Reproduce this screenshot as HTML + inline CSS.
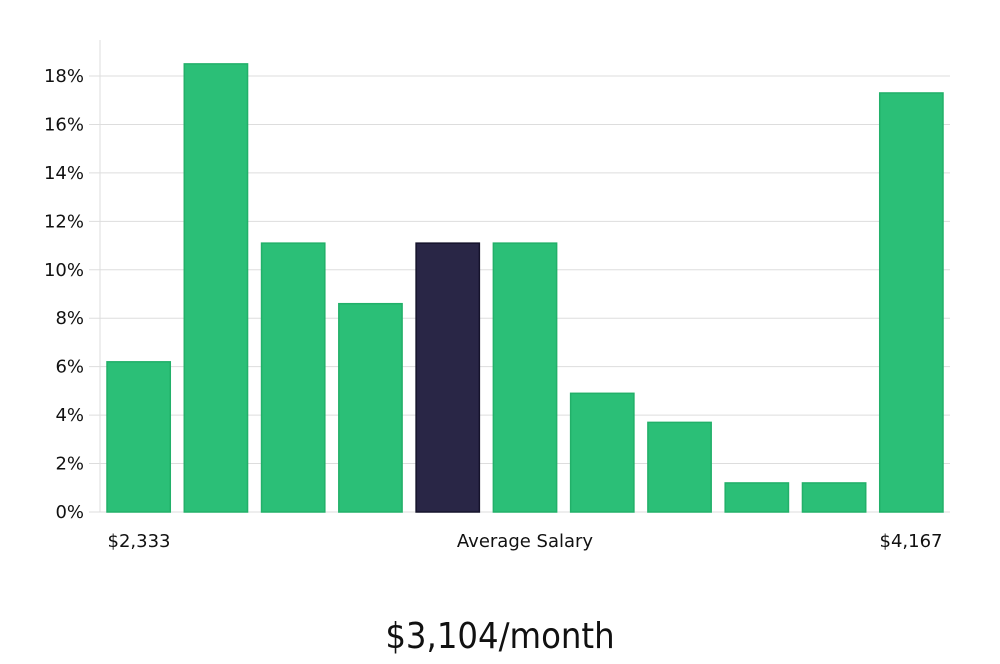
<!DOCTYPE html>
<html><head><meta charset="utf-8"><style>
body{margin:0;background:#fff;width:1000px;height:660px;overflow:hidden;font-family:"DejaVu Sans","Liberation Sans",sans-serif}
</style></head><body>
<svg width="1000" height="660" xmlns="http://www.w3.org/2000/svg">
<g id="grid"></g>
<g id="bars"></g>
<g id="labels">
<text x="139" y="547" font-size="18" text-anchor="middle" fill="#111">$2,333</text>
<text x="525" y="547" font-size="18" text-anchor="middle" fill="#111">Average Salary</text>
<text x="911" y="547" font-size="18" text-anchor="middle" fill="#111">$4,167</text>
</g>
<text x="500" y="648" font-size="36" text-anchor="middle" fill="#111" font-family="'DejaVu Sans Condensed','DejaVu Sans',sans-serif" font-weight="300">$3,104/month</text>
</svg>
<script>
const categories=["b1","b2","b3","b4","b5","b6","b7","b8","b9","b10","b11"];
const values=[6.2,18.5,11.1,8.6,11.1,11.1,4.9,3.7,1.2,1.2,17.3];
const highlight=[false,false,false,false,true,false,false,false,false,false,false];
const ticks=[0,2,4,6,8,10,12,14,16,18];
const NS="http://www.w3.org/2000/svg";
const x0=100,x1=950,y0=512,yTop=76,yMax=18;
const y=v=>y0-(v/yMax)*(y0-yTop);
const step=(x1-x0)/categories.length;
const grid=document.getElementById('grid'),bars=document.getElementById('bars');
function mk(t,a,p){const e=document.createElementNS(NS,t);for(const k in a)e.setAttribute(k,a[k]);p.appendChild(e);return e;}
ticks.forEach(t=>{
 const l=mk('line',{x1:89,x2:x1,y1:y(t),y2:y(t),stroke:'#ddd','stroke-width':1},grid);
 
 
 const tx=mk('text',{x:84,y:y(t)+6,'font-size':18,'text-anchor':'end',fill:'#111'},grid);
 tx.textContent=t+'%';
 
 
});
const ax=mk('line',{x1:x0,x2:x0,y1:40,y2:y0,stroke:'#ddd','stroke-width':1},grid);


values.forEach((v,i)=>{
 const bx=x0+i*step+7,bw=step-14;
 const r=mk('rect',{x:bx,y:y(v),width:bw,height:y0-y(v),fill:highlight[i]?'#292646':'#2bbf77',stroke:highlight[i]?'#15132b':'#22b069','stroke-width':1.5},bars);
 
 
});
</script>
</body></html>
